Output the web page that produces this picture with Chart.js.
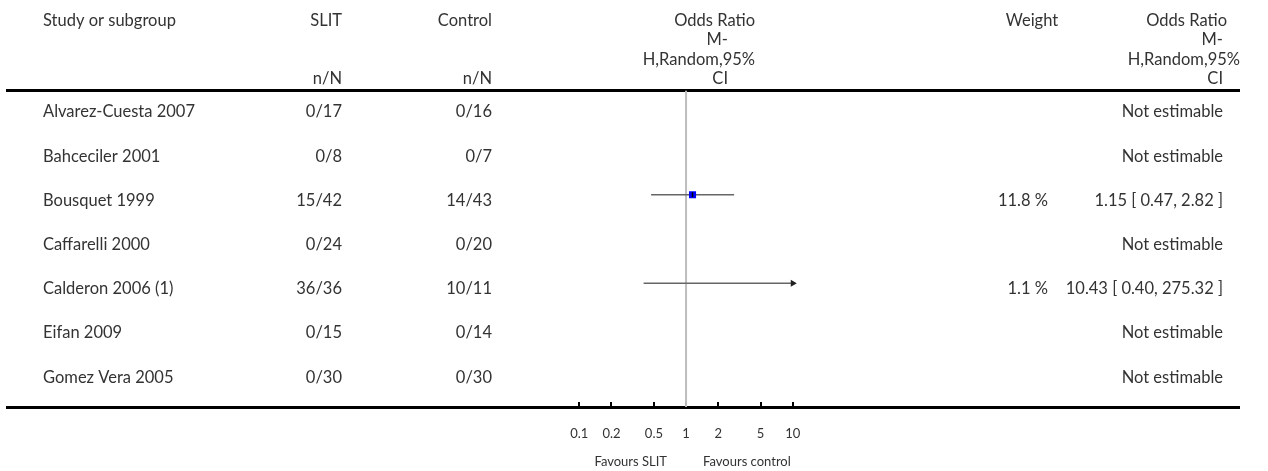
<!DOCTYPE html>
<html>
<head>
<meta charset="utf-8">
<title>Forest plot</title>
<script src="https://cdn.jsdelivr.net/npm/chart.js@4.4.0/dist/chart.umd.min.js"></script>
<style>
    html, body { margin: 0; padding: 0; background: #fff; }
    #wrap { width: 1268px; height: 471px; }
</style>
</head>
<body>
<div id="wrap"><canvas id="forest" width="1268" height="471"></canvas></div>
<script>
const studies = ['Alvarez-Cuesta 2007', 'Bahceciler 2001', 'Bousquet 1999', 'Caffarelli 2000', 'Calderon 2006 (1)', 'Eifan 2009', 'Gomez Vera 2005']
const slitEvents = ['0/17', '0/8', '15/42', '0/24', '36/36', '0/15', '0/30']
const controlEvents = ['0/16', '0/7', '14/43', '0/20', '10/11', '0/14', '0/30']
const oddsRatio = [null, null, 1.15, null, 10.43, null, null]
const ciLow = [null, null, 0.47, null, 0.40, null, null]
const ciHigh = [null, null, 2.82, null, 275.32, null, null]
const weights = [null, null, 11.8, null, 1.1, null, null]
const tickValues = [0.1, 0.2, 0.5, 1, 2, 5, 10]
const headerLines = ['Odds Ratio', 'M-', 'H,Random,95%', 'CI']

// axis range chosen so the scale line runs under the whole table
const xMin = 4.33e-7
const xMax = 1.52e5
const plotMin = tickValues[0]
const plotMax = tickValues[tickValues.length - 1]

const textColor = '#333'
const font = '16.5px Lato'

const ciSets = []
studies.forEach((s, i) => {
    if (ciLow[i] == null) return
    const clipped = ciHigh[i] > plotMax
    ciSets.push({
        type: 'line',
        data: [{ x: Math.max(ciLow[i], plotMin), y: i }, { x: Math.min(ciHigh[i], plotMax), y: i }],
        borderColor: '#666',
        borderWidth: 1.5,
        pointStyle: 'triangle',
        rotation: 90,
        pointRadius: [0, clipped ? 2.5 : 0],
        pointBackgroundColor: '#222',
        pointBorderColor: '#222',
        order: 3
    })
})

const shown = studies.map((s, i) => i).filter(i => oddsRatio[i] != null && oddsRatio[i] <= plotMax)

const tableText = {
    id: 'tableText',
    afterDraw(chart) {
        const ctx = chart.ctx
        const y = chart.scales.y
        const x = chart.scales.x
        ctx.save()
        ctx.fillStyle = textColor
        ctx.font = font
        ctx.textBaseline = 'alphabetic'

        // header
        ctx.textAlign = 'left'
        ctx.fillText('Study or subgroup', 43, 26)
        ctx.textAlign = 'right'
        ctx.fillText('SLIT', 342, 26)
        ctx.fillText('Control', 492, 26)
        ctx.fillText('n/N', 342, 84)
        ctx.fillText('n/N', 492, 84)
        const leftEdges = [755, 728, 755, 728]
        const rightEdges = [1227, 1223, 1240, 1223]
        headerLines.forEach((line, k) => {
            ctx.fillText(line, leftEdges[k], 26 + k * 19.3)
            ctx.fillText(line, rightEdges[k], 26 + k * 19.3)
        })
        ctx.textAlign = 'center'
        ctx.fillText('Weight', 1032, 26)

        // rows
        studies.forEach((name, i) => {
            const py = y.getPixelForValue(i) + 11
            ctx.textAlign = 'left'
            ctx.fillText(name, 43, py)
            ctx.textAlign = 'right'
            ctx.fillText(slitEvents[i], 342, py)
            ctx.fillText(controlEvents[i], 492, py)
            if (oddsRatio[i] == null) {
                ctx.fillText('Not estimable', 1223, py)
            } else {
                ctx.fillText(oddsRatio[i].toFixed(2) + ' [ ' + ciLow[i].toFixed(2) + ', ' + ciHigh[i].toFixed(2) + ' ]', 1223, py)
                ctx.fillText(weights[i].toFixed(1) + ' %', 1048, py)
            }
        })

        // favours labels under the axis
        ctx.font = '13px Lato'
        const one = x.getPixelForValue(1)
        ctx.textAlign = 'right'
        ctx.fillText('Favours SLIT', one - 19, 466)
        ctx.textAlign = 'left'
        ctx.fillText('Favours control', one + 17, 466)
        ctx.restore()
    }
}

new Chart(document.getElementById('forest').getContext('2d'), {
    type: 'scatter',
    data: {
        datasets: [
            {
                // small mark at the point estimate
                data: shown.map(i => ({ x: oddsRatio[i], y: i })),
                pointStyle: 'line',
                rotation: 90,
                pointRadius: 2.5,
                borderColor: '#000',
                borderWidth: 1.5,
                order: 1
            },
            {
                data: shown.map(i => ({ x: oddsRatio[i], y: i })),
                pointStyle: 'rect',
                pointRadius: 5,
                backgroundColor: '#0000ff',
                borderColor: '#0000ff',
                borderWidth: 0,
                order: 2
            },
            ...ciSets,
            {
                type: 'line',
                data: [{ x: 1, y: -0.36 }, { x: 1, y: 6.8 }],
                borderColor: '#bdbdbd',
                borderWidth: 2,
                pointRadius: 0,
                order: 4
            }
        ]
    },
    options: {
        responsive: false,
        animation: false,
        layout: {
            padding: { top: 90.5, left: 7, right: 29, bottom: 0 }
        },
        plugins: {
            legend: { display: false },
            tooltip: { enabled: false }
        },
        scales: {
            x: {
                type: 'logarithmic',
                position: 'bottom',
                min: xMin,
                max: xMax,
                bounds: 'data',
                afterBuildTicks: (scale) => { scale.ticks = tickValues.map(v => ({ value: v })) },
                afterFit: (scale) => { scale.height = 64 },
                grid: {
                    drawOnChartArea: false,
                    drawTicks: true,
                    tickLength: -5,
                    color: '#000',
                    lineWidth: 2
                },
                border: { display: true, color: '#000', width: 3 },
                ticks: {
                    autoSkip: false,
                    maxRotation: 0,
                    padding: 24,
                    color: textColor,
                    font: { family: 'Lato', size: 13 },
                    callback: (v) => String(v)
                }
            },
            xTop: {
                type: 'logarithmic',
                position: 'top',
                min: xMin,
                max: xMax,
                bounds: 'data',
                afterFit: (scale) => { scale.height = 0 },
                grid: { display: false, drawTicks: false },
                ticks: { display: false },
                border: { display: true, color: '#000', width: 3 }
            },
            y: {
                type: 'linear',
                display: false,
                reverse: true,
                min: -0.36,
                max: 6.8
            }
        }
    },
    plugins: [tableText]
});
</script>
</body>
</html>
